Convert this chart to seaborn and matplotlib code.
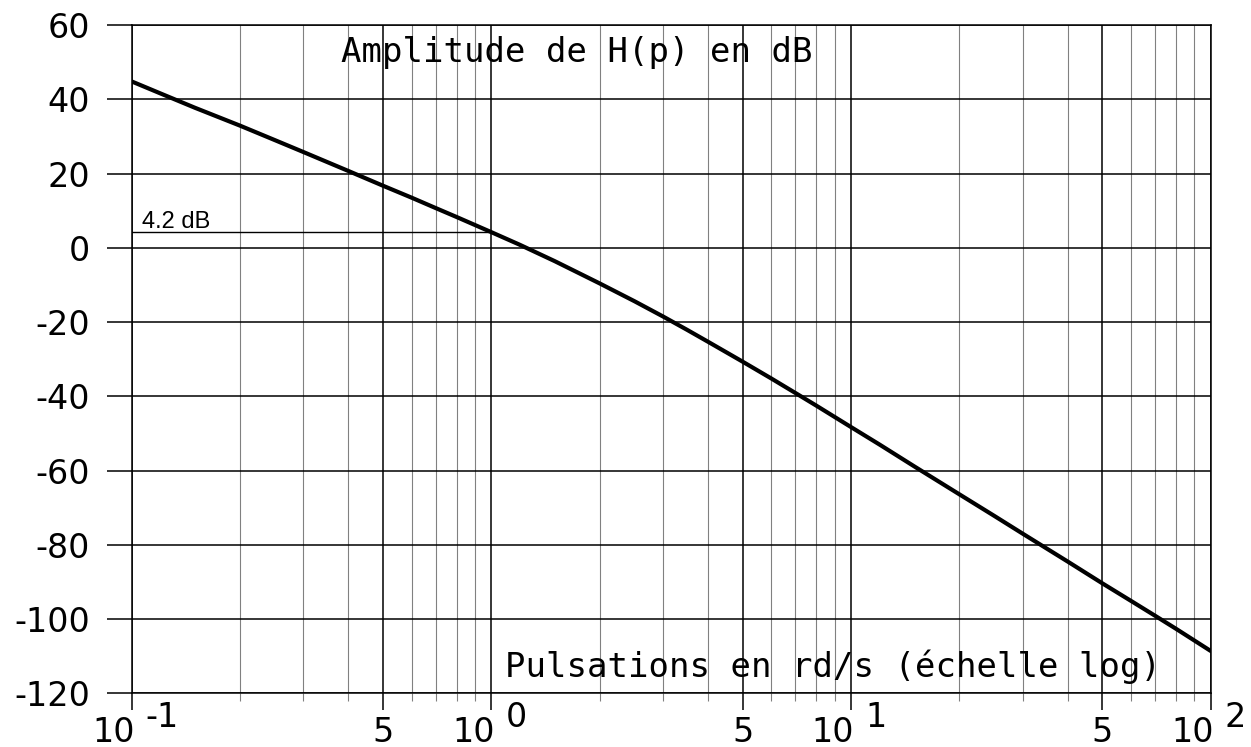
import matplotlib
matplotlib.use("Agg")
import matplotlib.pyplot as plt
from matplotlib import transforms
from matplotlib.ticker import FixedLocator, NullFormatter
import pandas as pd
import seaborn as sns

# Gain curve of H(p): pulsation (rd/s) and amplitude (dB)
omega = [0.1, 0.12, 0.15, 0.2, 0.25, 0.3, 0.4, 0.5, 0.6, 0.7, 0.8, 1.0,
         1.2, 1.5, 1.8, 2.0, 2.5, 3.0, 3.5, 4.0, 5.0, 6.0, 7.0, 8.0,
         10.0, 12.0, 15.0, 20.0, 25.0, 30.0, 40.0, 50.0, 60.0, 70.0, 80.0, 100.0]
gain_db = [44.8, 41.6, 37.7, 32.9, 29.0, 25.8, 20.7, 16.7, 13.5, 10.7, 8.3, 4.2,
           0.8, -3.6, -7.4, -9.6, -14.4, -18.5, -22.1, -25.3, -30.7, -35.2, -39.1, -42.5,
           -48.3, -53.0, -58.9, -66.4, -72.2, -77.0, -84.5, -90.4, -95.1, -99.1, -102.6, -108.6]

# Axis ticks
y_ticks = [-120, -100, -80, -60, -40, -20, 0, 20, 40, 60]
decades = [0.1, 1, 10, 100]
decade_exponents = ["-1", "0", "1", "2"]
fives = [0.5, 5, 50]
minor_x = [m * d for d in [0.1, 1, 10] for m in [2, 3, 4, 6, 7, 8, 9]]

# Reference level marked on the plot
ref_gain = 4.2
ref_omega = 1.0

sns.set_style("ticks")
plt.rcParams["font.family"] = ["DejaVu Sans"]
plt.rcParams["axes.unicode_minus"] = False
plt.rcParams["text.color"] = "black"
plt.rcParams["xtick.labelcolor"] = "black"
plt.rcParams["ytick.labelcolor"] = "black"

fig = plt.figure(figsize=(12.51, 7.47), dpi=100)
ax = fig.add_axes([0.1053, 0.0719, 0.8625, 0.8946])

df = pd.DataFrame({"omega": omega, "gain": gain_db})

ax.set_xscale("log")
ax.set_xlim(0.1, 100)
ax.set_ylim(-120, 60)

ax.xaxis.set_major_locator(FixedLocator(sorted(decades + fives)))
ax.xaxis.set_minor_locator(FixedLocator(minor_x))
ax.xaxis.set_major_formatter(NullFormatter())
ax.xaxis.set_minor_formatter(NullFormatter())
ax.set_yticks(y_ticks)
ax.set_yticklabels([str(v) for v in y_ticks])

ax.grid(which="major", axis="both", color="black", lw=1.1)
ax.grid(which="minor", axis="x", color="#808080", lw=0.8)
ax.set_axisbelow(True)

ax.tick_params(axis="x", which="major", bottom=True, length=12.2, width=1.1,
               color="black", direction="out")
ax.tick_params(axis="x", which="minor", bottom=True, length=5.8, width=0.8,
               color="#808080", direction="out")
ax.tick_params(axis="y", which="major", left=True, length=18, width=1.1,
               color="black", labelcolor="black", direction="out", pad=12,
               labelsize=24)

for side in ["left", "right", "top", "bottom"]:
    ax.spines[side].set_visible(True)
    ax.spines[side].set_color("black")
    ax.spines[side].set_linewidth(1.1)

# Gain curve
sns.lineplot(data=df, x="omega", y="gain", color="black", lw=3.0, ax=ax,
             zorder=5)
ax.set_xlabel("")
ax.set_ylabel("")

# 4.2 dB level at omega = 1
ax.plot([0.1, ref_omega], [ref_gain, ref_gain], color="black", lw=1.0, zorder=4)
ax.text(0.1066, 5.3, f"{ref_gain} dB", family="Liberation Sans", fontsize=17,
        va="baseline", ha="left", color="black")

# Decade labels: 10 with a raised exponent of the same size
xtrans = ax.get_xaxis_transform()
base_t = transforms.offset_copy(xtrans, fig=fig, x=3, y=-48.7, units="dots")
exp_t = transforms.offset_copy(xtrans, fig=fig, x=14, y=-33.7, units="dots")
mid_t = transforms.offset_copy(xtrans, fig=fig, x=0, y=-48.7, units="dots")
for d, e in zip(decades, decade_exponents):
    ax.text(d, 0, "10", transform=base_t, ha="right", va="baseline",
            fontsize=24, clip_on=False, color="black")
    ax.text(d, 0, e, transform=exp_t, ha="left", va="baseline",
            fontsize=24, clip_on=False, color="black")
for f in fives:
    ax.text(f, 0, "5", transform=mid_t, ha="center", va="baseline",
            fontsize=24, clip_on=False, color="black")

# Titles inside the plotting area
ax.text(0.1937, 0.945, "Amplitude de H(p) en dB", transform=ax.transAxes,
        family="DejaVu Sans Mono", fontsize=24.5, va="baseline", ha="left",
        color="black")
ax.text(0.346, 0.024, "Pulsations en rd/s (échelle log)", transform=ax.transAxes,
        family="DejaVu Sans Mono", fontsize=24.5, va="baseline", ha="left",
        color="black")

fig.savefig("out.png", dpi=100)
